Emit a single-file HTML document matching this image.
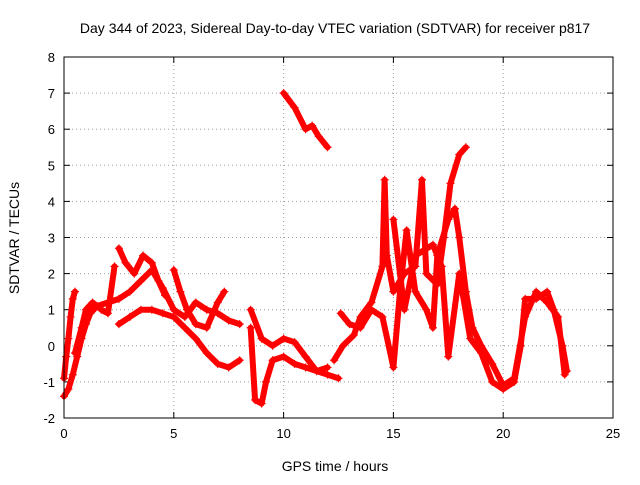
<!DOCTYPE html>
<html><head><meta charset="utf-8"><style>
body{margin:0;background:#fff;width:640px;height:480px;overflow:hidden}
svg{font-family:"Liberation Sans",sans-serif}
</style></head><body>
<svg id="chart" width="640" height="480" xmlns="http://www.w3.org/2000/svg">
<rect width="640" height="480" fill="#fff"/>
<text x="335" y="33" font-size="14" text-anchor="middle">Day 344 of 2023, Sidereal Day-to-day VTEC variation (SDTVAR) for receiver p817</text>
<text x="335" y="471" font-size="14" text-anchor="middle">GPS time / hours</text>
<text transform="translate(19,238) rotate(-90)" font-size="14" text-anchor="middle">SDTVAR / TECUs</text>
<g id="grid"></g><g id="ticks"></g><g id="data"></g>
<rect x="64" y="57" width="549" height="361" fill="none" stroke="#000" stroke-width="1"/>
</svg>
<script>
const xTicks=[0,5,10,15,20,25];
const yTicks=[-2,-1,0,1,2,3,4,5,6,7,8];
const trackA=[[0,-0.9],[0.1,-0.3],[0.2,0.2],[0.3,0.8],[0.4,1.3],[0.5,1.5]];
const trackB=[[0,-1.4],[0.2,-1.2],[0.4,-0.8],[0.6,-0.3],[0.8,0.2],[1.0,0.6],[1.2,0.9],[1.5,1.1],[2.0,1.2],[2.5,1.3],[3.0,1.5],[3.5,1.8],[4.0,2.1],[4.5,1.6],[5,1.0]];
const trackC=[[0.5,-0.2],[0.8,0.5],[1.0,1.0],[1.3,1.2],[1.7,1.0],[2.0,0.9],[2.3,2.2]];
const trackD=[[2.5,2.7],[2.8,2.3],[3.2,2.0],[3.6,2.5],[4.0,2.3],[4.3,1.8],[4.6,1.4]];
const trackE=[[2.5,0.6],[3,0.8],[3.5,1.0],[4,1.0],[4.5,0.9],[5,0.8],[5.5,0.5],[6,0.2],[6.5,-0.2],[7,-0.5],[7.5,-0.6],[8,-0.4]];
const trackF=[[5,1.0],[5.5,0.8],[6,1.2],[6.5,1.0],[7,0.9],[7.5,0.7],[8,0.6]];
const trackG=[[5,2.1],[5.3,1.5],[5.6,1.0],[6,0.6],[6.5,0.5],[7,1.2],[7.3,1.5]];
const trackH=[[8.5,0.5],[8.7,-1.5],[9,-1.6],[9.2,-1.0],[9.5,-0.4],[10,-0.3],[10.5,-0.5],[11,-0.6],[11.5,-0.7],[12,-0.8],[12.5,-0.9]];
const trackI=[[8.5,1.0],[9,0.2],[9.5,0.0],[10,0.2],[10.5,0.1],[11,-0.3],[11.5,-0.7],[12,-0.6]];
const trackJ=[[10,7.0],[10.5,6.6],[11,6.0],[11.3,6.1],[11.6,5.8],[12,5.5]];
const trackK=[[12.3,-0.4],[12.7,0.0],[13.2,0.3],[13.5,0.8],[14,1.2],[14.5,2.2],[14.6,4.6],[14.7,2.5],[15,1.5],[15.5,2.0],[16,2.2],[16.3,4.6],[16.5,2.0],[17,1.7],[17.3,3.0],[17.6,4.5],[18,5.3],[18.3,5.5]];
const trackL=[[12.6,0.9],[13,0.6],[13.5,0.5],[14,1.0],[14.5,0.8],[15,-0.6],[15.3,1.5],[15.6,3.2],[16,1.5],[16.5,1.0],[16.8,0.5],[17,2.5],[17.5,3.5],[17.8,3.8],[18,3.0],[18.3,1.5],[18.6,0.5],[19,0.0],[19.5,-0.5],[20,-1.1],[20.5,-0.9],[21,0.8],[21.5,1.5],[22,1.2],[22.5,0.8],[22.8,-0.8]];
const trackM=[[15,3.5],[15.5,1.0],[16,2.5],[16.8,2.8],[17.2,2.2],[17.5,-0.3],[18,2.0],[18.5,0.2],[19,-0.2],[19.5,-1.0],[20,-1.2],[20.5,-1.0],[20.8,0.0],[21,1.3],[21.5,1.3],[22,1.5],[22.3,1.0],[22.7,0.0],[22.9,-0.7]];
const tracks=[trackA,trackB,trackC,trackD,trackE,trackF,trackG,trackH,trackI,trackJ,trackK,trackL,trackM];

const X0=64,X1=613,Y0=418,Y1=57;
function xs(v){return X0+(v-0)/(25-0)*(X1-X0);}
function ys(v){return Y0-(v+2)/(10)*(Y0-Y1);}
const NS="http://www.w3.org/2000/svg";
function mk(t,a,p){const e=document.createElementNS(NS,t);for(const k in a)e.setAttribute(k,a[k]);p.appendChild(e);return e;}
const grid=document.getElementById('grid'),ticks=document.getElementById('ticks'),data=document.getElementById('data');
xTicks.forEach(v=>{
  const x=xs(v);
  if(v>0&&v<25){const g=mk('line',{x1:x,x2:x,y1:Y1,y2:Y0,stroke:'#a0a0a0','stroke-dasharray':'1,3'},grid);
  
  }
  mk('line',{x1:x,x2:x,y1:Y0,y2:Y0-6,stroke:'#000'},ticks);
  mk('line',{x1:x,x2:x,y1:Y1,y2:Y1+6,stroke:'#000'},ticks);
  const t=mk('text',{x:x,y:Y0+20,'font-size':13,'text-anchor':'middle'},ticks);
  t.textContent=v;
  
  
});
yTicks.forEach(v=>{
  const y=ys(v);
  if(v>-2&&v<8){const g=mk('line',{x1:X0,x2:X1,y1:y,y2:y,stroke:'#a0a0a0','stroke-dasharray':'1,3'},grid);
  
  }
  mk('line',{x1:X0,x2:X0+6,y1:y,y2:y,stroke:'#000'},ticks);
  mk('line',{x1:X1,x2:X1-6,y1:y,y2:y,stroke:'#000'},ticks);
  const t=mk('text',{x:X0-9,y:y+5,'font-size':13,'text-anchor':'end'},ticks);
  t.textContent=v;
  
  
});
tracks.forEach((tr,i)=>{
  const pts=tr.map(p=>xs(p[0])+','+ys(p[1])).join(' ');
  const pl=mk('polyline',{points:pts,fill:'none',stroke:'#ff0000','stroke-width':6,'stroke-linejoin':'round','stroke-linecap':'round'},data);
  
  
  tr.forEach(p=>{
    const x=xs(p[0]),y=ys(p[1]);
    const m=mk('path',{d:`M${x-4},${y}H${x+4}M${x},${y-4}V${y+4}`,stroke:'#ff0000','stroke-width':1.2},data);
    
    
  });
});
</script>
</body></html>
